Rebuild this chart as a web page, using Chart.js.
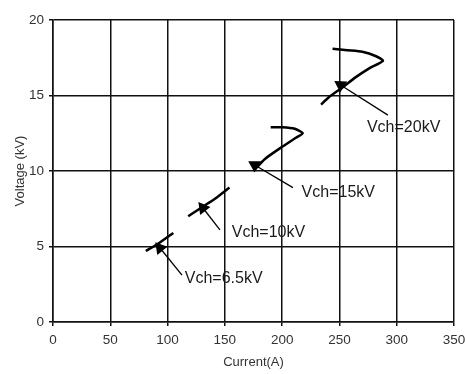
<!DOCTYPE html>
<html>
<head>
<meta charset="utf-8">
<script src="https://cdn.jsdelivr.net/npm/chart.js@4.4.1/dist/chart.umd.min.js"></script>
<style>
  html, body { margin: 0; padding: 0; background: #fff; }
  #wrap { width: 465px; height: 374px; position: relative; }
</style>
</head>
<body>
<div id="wrap"><canvas id="vi"></canvas></div>
<script>
// V-I traces for each charging voltage (x = current A, y = voltage kV)
const trace65 = [[81, 4.7], [92, 5.2], [105, 5.9]];
const trace10 = [[118, 7.0], [130, 7.6], [142, 8.2], [154, 8.9]];
const trace15 = [[175, 10.0], [185, 10.8], [200, 11.6], [212, 12.2], [218, 12.5], [211, 12.8], [200, 12.9], [190, 12.9]];
const trace20 = [[234, 14.4], [241, 14.9], [252, 15.5], [264, 16.2], [276, 16.8], [288, 17.3], [282, 17.6], [270, 17.9], [257, 18.0], [244, 18.1]];

// callout labels: text, label anchor, arrow tail, arrow head
const calloutText = ['Vch=6.5kV', 'Vch=10kV', 'Vch=15kV', 'Vch=20kV'];
const calloutAt = [[115, 2.9], [156, 5.9], [217, 8.55], [274, 12.9]];
const arrowTail = [[112.6, 3.1], [145.7, 6.1], [209.4, 8.9], [292.3, 13.7]];
const arrowHead = [[93.4, 4.9], [130.9, 7.55], [176, 10.4], [251, 15.7]];

const xTicks = [0, 50, 100, 150, 200, 250, 300, 350];
const yTicks = [0, 5, 10, 15, 20];

const toPts = arr => arr.map(([x, y]) => ({ x, y }));

function traceDataset(pts) {
  return {
    data: toPts(pts),
    showLine: true,
    borderColor: '#000',
    borderWidth: 2.5,
    pointRadius: 0,
    tension: 0.2,
  };
}

// arrow shaft with a triangle head, rotation from the screen direction
function arrowDataset(i) {
  return {
    data: toPts([arrowTail[i], arrowHead[i]]),
    showLine: true,
    borderColor: '#000',
    borderWidth: 1.3,
    pointStyle: 'triangle',
    pointRadius: [0, 7.5],
    pointBackgroundColor: '#000',
    pointBorderColor: '#000',
    pointBorderWidth: 0,
    pointRotation: (ctx) => {
      const c = ctx.chart;
      const sx = c.scales.x, sy = c.scales.y;
      const dx = sx.getPixelForValue(arrowHead[i][0]) - sx.getPixelForValue(arrowTail[i][0]);
      const dy = sy.getPixelForValue(arrowHead[i][1]) - sy.getPixelForValue(arrowTail[i][1]);
      return Math.atan2(dx, -dy) * 180 / Math.PI;
    },
  };
}

const calloutLabels = {
  id: 'calloutLabels',
  afterDatasetsDraw(chart) {
    const { ctx, scales: { x, y } } = chart;
    ctx.save();
    ctx.font = '16px "Liberation Sans", Arial, sans-serif';
    ctx.fillStyle = '#1a1a1a';
    ctx.textAlign = 'left';
    ctx.textBaseline = 'middle';
    calloutText.forEach((t, i) => {
      ctx.fillText(t, x.getPixelForValue(calloutAt[i][0]), y.getPixelForValue(calloutAt[i][1]));
    });
    ctx.restore();
  },
};

const tickFont = { family: '"Liberation Sans", Arial, sans-serif', size: 13.5 };
const titleFont = { family: '"Liberation Sans", Arial, sans-serif', size: 13 };

new Chart(document.getElementById('vi'), {
  type: 'scatter',
  data: {
    datasets: [
      traceDataset(trace65),
      traceDataset(trace10),
      traceDataset(trace15),
      traceDataset(trace20),
      arrowDataset(0),
      arrowDataset(1),
      arrowDataset(2),
      arrowDataset(3),
    ],
  },
  options: {
    responsive: true,
    maintainAspectRatio: false,
    animation: false,
    layout: { padding: { top: 20, right: 11, left: 0, bottom: 0 } },
    plugins: {
      legend: { display: false },
      tooltip: { enabled: false },
    },
    scales: {
      x: {
        type: 'linear',
        min: 0,
        max: 350,
        afterBuildTicks: (s) => { s.ticks = xTicks.map(v => ({ value: v })); },
        afterFit: (s) => { s.height = 52; s.paddingLeft = 0; s.paddingRight = 0; },
        grid: { color: '#111', lineWidth: 1.5, tickLength: 4, drawTicks: true },
        border: { color: '#111', width: 1.5 },
        ticks: { color: '#333', font: tickFont, padding: 6, maxRotation: 0 },
        title: { display: true, text: 'Current(A)', color: '#333', font: titleFont, padding: { top: 2, bottom: 4 } },
      },
      y: {
        type: 'linear',
        min: 0,
        max: 20,
        afterBuildTicks: (s) => { s.ticks = yTicks.map(v => ({ value: v })); },
        afterFit: (s) => { s.width = 53; s.paddingTop = 0; s.paddingBottom = 0; },
        grid: { color: '#111', lineWidth: 1.5, tickLength: 4 },
        border: { color: '#111', width: 1.5 },
        ticks: { color: '#333', font: tickFont, padding: 5 },
        title: { display: true, text: 'Voltage (kV)', color: '#333', font: titleFont, padding: { top: 13, bottom: 0 } },
      },
    },
  },
  plugins: [calloutLabels],
});
</script>
</body>
</html>
